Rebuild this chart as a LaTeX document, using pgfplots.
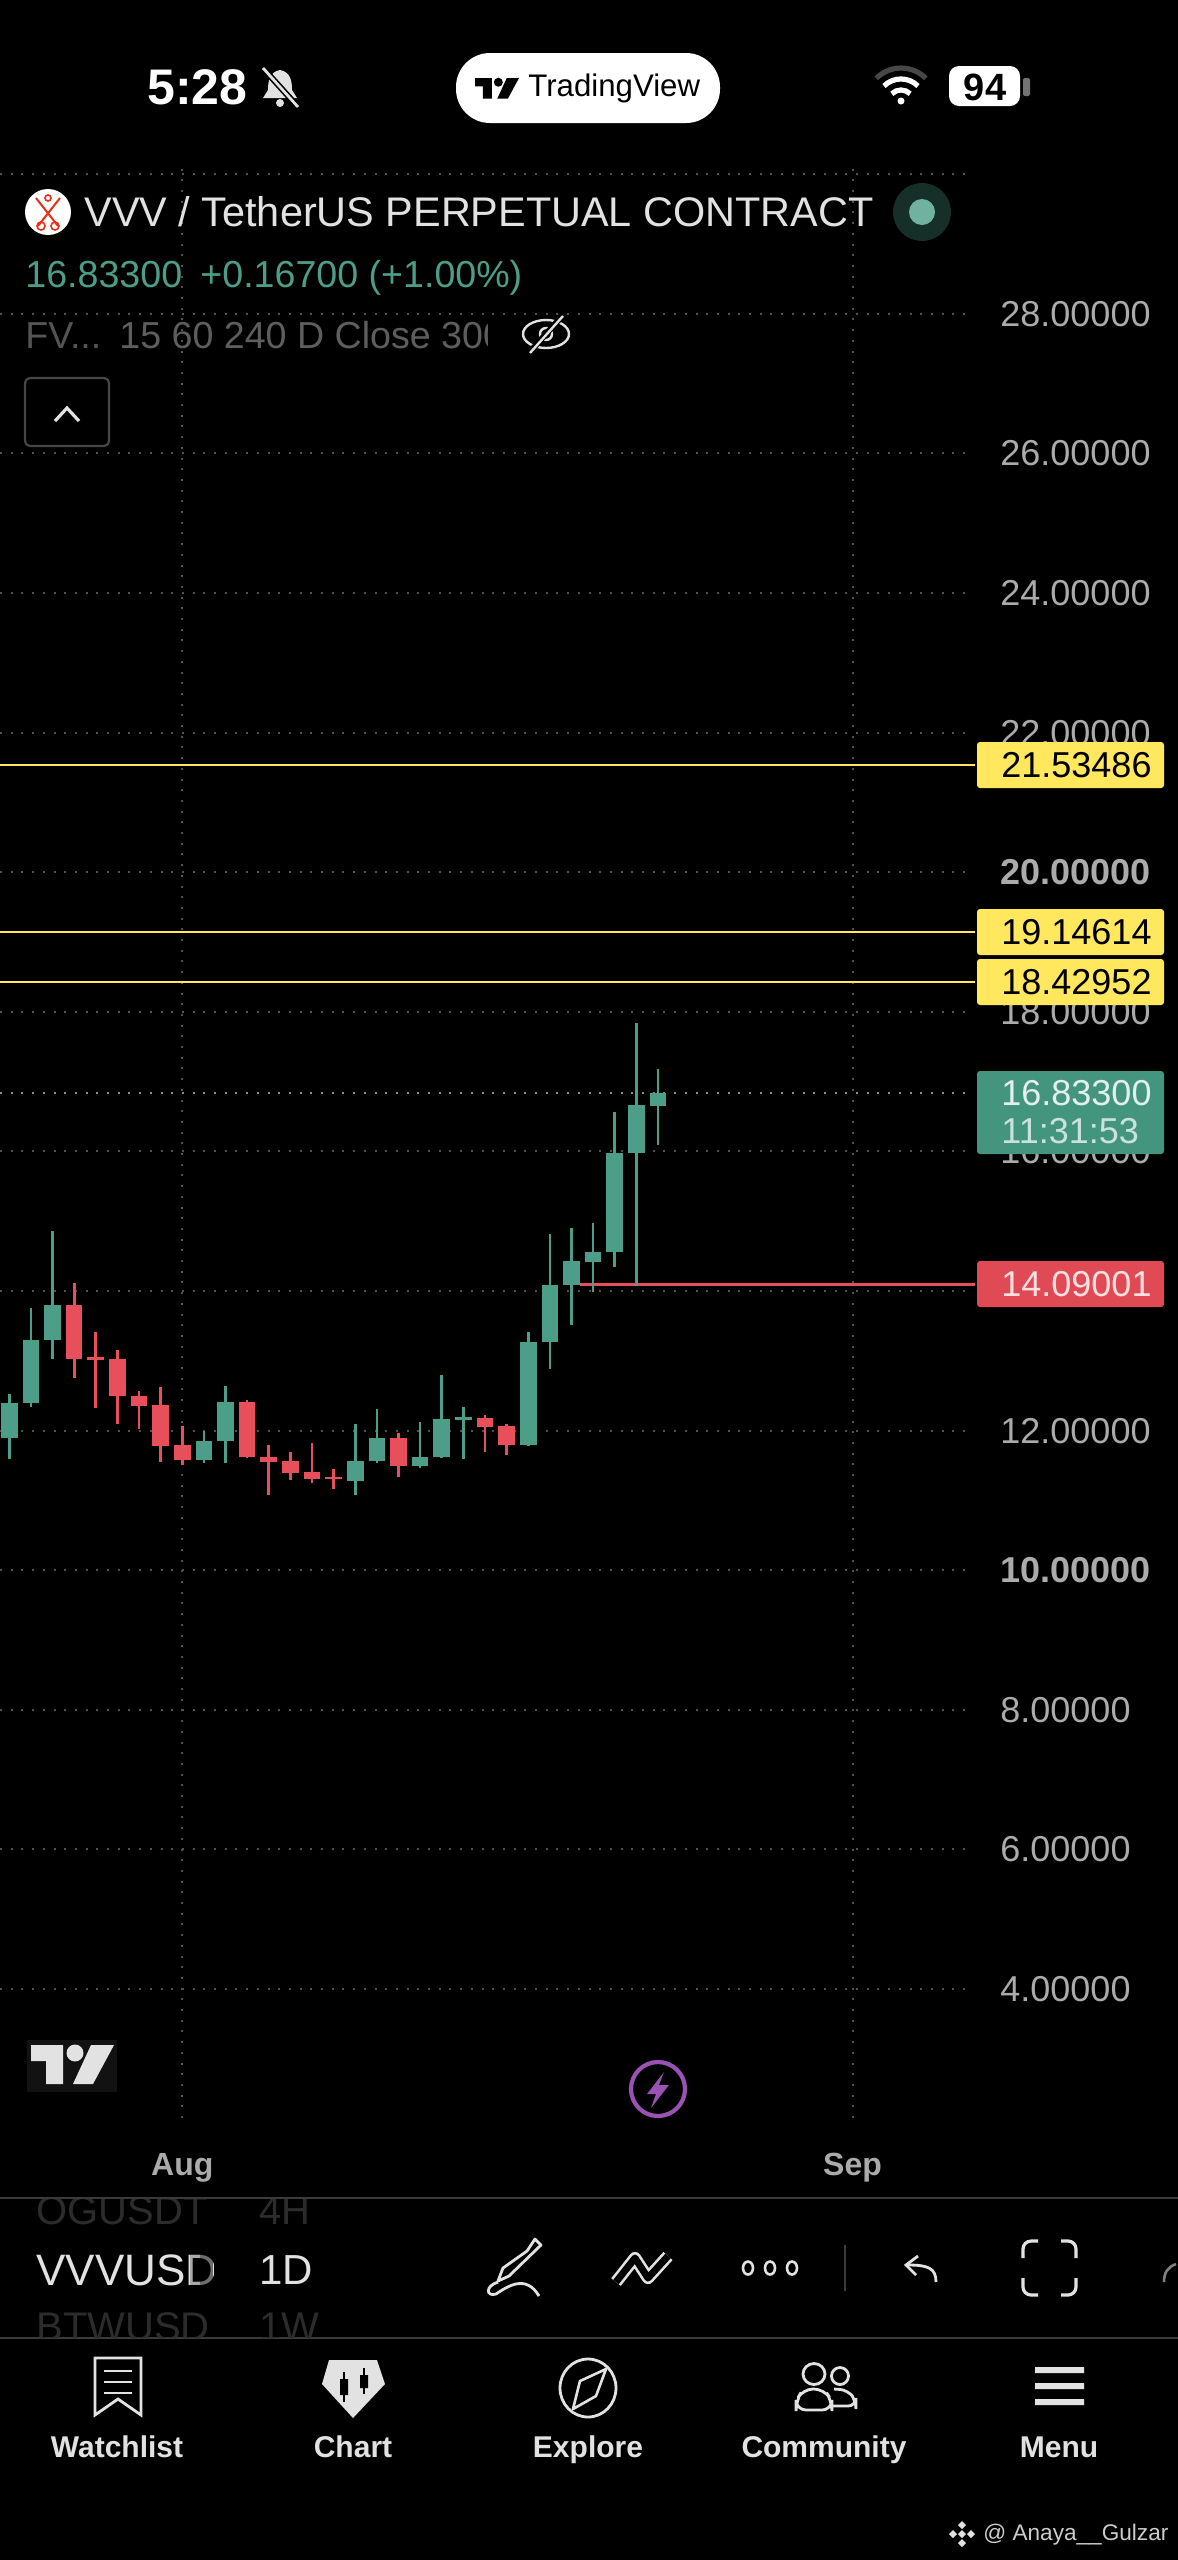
\documentclass[border=0pt]{standalone}
\usepackage{fontspec}
\usepackage{pgfplots}
\pgfplotsset{compat=1.18}
\setmainfont{Liberation Sans}
\newcommand\fs[1]{\fontsize{#1pt}{#1pt}\selectfont}
\definecolor{cgreen}{HTML}{4D9E88}
\definecolor{cred}{HTML}{E7505A}
\definecolor{cyellow}{HTML}{FFE75E}
\definecolor{cgbox}{HTML}{44957E}
\definecolor{crbox}{HTML}{E04A55}
\definecolor{ticktxt}{HTML}{ABABAB}
\definecolor{ui}{HTML}{E2E2E2}
\definecolor{faint}{HTML}{2C2C2C}
\definecolor{sepl}{HTML}{3A3A3A}
\definecolor{purp}{HTML}{9A52B5}
\newcommand\tvlogo[1]{%
  \fill[#1] (0,0)--(32,0)--(32,39)--(15,39)--(15,16)--(0,16)--cycle;
  \fill[#1] (44,8) circle (8.5);
  \fill[#1] (83,0)--(62,39)--(42,39)--(60,0)--cycle;}
\begin{document}
\begin{tikzpicture}[x=0.5pt,y=-0.5pt]
\fill[black,use as bounding box] (0,0) rectangle (1178,2560);
\begin{axis}[
  at={(0pt,-1059pt)},anchor=south west,
  scale only axis,width=482.5pt,height=976.5pt,
  xmin=-0.43,xmax=44.2,ymin=2.152,ymax=30.132,
  clip=false,
  unbounded coords=jump,
  axis line style={draw=none},
  tick style={draw=none},
  major tick length=0pt,
  xtick={8,39},xticklabels={Aug,Sep},
  ytick={4,6,8,10,12,14,16,18,20,22,24,26,28,30},
  yticklabels={4.00000,6.00000,8.00000,\textbf{10.00000},12.00000,14.00000,16.00000,18.00000,\textbf{20.00000},22.00000,24.00000,26.00000,28.00000,{}},
  yticklabel pos=right,
  yticklabel style={anchor=west,inner sep=0pt,xshift=17.5pt,text=ticktxt,font=\fs{18}},
  xticklabel style={anchor=base,inner sep=0pt,yshift=-28.5pt,text=ticktxt,font=\fs{16}\bfseries},
  xmajorgrids,ymajorgrids,
  grid style={draw=white!32!black,line width=1pt,dash pattern=on 1pt off 4.35pt},
]
% current price dotted line
\addplot[forget plot,draw=white!55!black,line width=1pt,dash pattern=on 1pt off 4.35pt] coordinates {(-0.43,16.833)(44.2,16.833)};
% levels
\addplot[forget plot,cyellow,line width=1.2pt] coordinates {(-0.43,21.53486)(44.67,21.53486)};
\addplot[forget plot,cyellow,line width=1.2pt] coordinates {(-0.43,19.14614)(44.67,19.14614)};
\addplot[forget plot,cyellow,line width=1.2pt] coordinates {(-0.43,18.42952)(44.67,18.42952)};
\addplot[forget plot,cred,line width=1.5pt] coordinates {(26.39,14.09001)(44.67,14.09001)};
% red wicks
\addplot[forget plot,cred,line width=1.35pt] coordinates {
(3,12.76)(3,14.12)(3,nan)(4,12.32)(4,13.41)(4,nan)(5,12.09)(5,13.16)(5,nan)(6,12.02)(6,12.57)(6,nan)
(7,11.55)(7,12.63)(7,nan)(8,11.51)(8,12.07)(8,nan)(11,11.61)(11,12.44)(11,nan)(12,11.08)(12,11.80)(12,nan)
(13,11.29)(13,11.70)(13,nan)(14,11.25)(14,11.82)(14,nan)(15,11.16)(15,11.45)(15,nan)(18,11.33)(18,11.97)(18,nan)
(22,11.70)(22,12.22)(22,nan)(23,11.65)(23,12.09)};
% green wicks
\addplot[forget plot,cgreen,line width=1.35pt] coordinates {
(0,11.59)(0,12.53)(0,nan)(1,12.34)(1,13.76)(1,nan)(2,13.03)(2,14.86)(2,nan)(9,11.54)(9,11.99)(9,nan)
(10,11.53)(10,12.64)(10,nan)(16,11.08)(16,12.10)(16,nan)(17,11.54)(17,12.31)(17,nan)(19,11.47)(19,12.13)(19,nan)
(20,11.61)(20,12.79)(20,nan)(21,11.59)(21,12.34)(21,nan)(24,11.78)(24,13.41)(24,nan)(25,12.88)(25,14.81)(25,nan)
(26,13.52)(26,14.91)(26,nan)(27,13.99)(27,14.97)(27,nan)(28,14.34)(28,16.57)(28,nan)(29,14.07)(29,17.84)(29,nan)
(30,16.09)(30,17.18)};
% red bodies
\addplot[forget plot,cred,line width=8.3pt] coordinates {
(3,13.03)(3,13.80)(3,nan)(4,13.01)(4,13.05)(4,nan)(5,12.49)(5,13.02)(5,nan)(6,12.36)(6,12.50)(6,nan)
(7,11.78)(7,12.37)(7,nan)(8,11.58)(8,11.79)(8,nan)(11,11.62)(11,12.41)(11,nan)(12,11.55)(12,11.62)(12,nan)
(13,11.40)(13,11.56)(13,nan)(14,11.31)(14,11.41)(14,nan)(15,11.30)(15,11.34)(15,nan)(18,11.50)(18,11.89)(18,nan)
(22,12.05)(22,12.18)(22,nan)(23,11.79)(23,12.06)};
% green bodies
\addplot[forget plot,cgreen,line width=8.3pt] coordinates {
(0,11.90)(0,12.40)(0,nan)(1,12.40)(1,13.30)(1,nan)(2,13.30)(2,13.80)(2,nan)(9,11.58)(9,11.85)(9,nan)
(10,11.85)(10,12.41)(10,nan)(16,11.28)(16,11.57)(16,nan)(17,11.56)(17,11.89)(17,nan)(19,11.50)(19,11.62)(19,nan)
(20,11.62)(20,12.16)(20,nan)(21,12.15)(21,12.19)(21,nan)(24,11.79)(24,13.27)(24,nan)(25,13.27)(25,14.08)(25,nan)
(26,14.08)(26,14.43)(26,nan)(27,14.42)(27,14.56)(27,nan)(28,14.56)(28,15.98)(28,nan)(29,15.98)(29,16.66)(29,nan)
(30,16.65)(30,16.83)};
\end{axis}

% price boxes
\foreach \yy/\lab in {765/21.53486,932/19.14614,982/18.42952}{
  \fill[cyellow,rounded corners=1.5pt] (977,\yy-23) rectangle (1164,\yy+23);
  \node[anchor=west,inner sep=0pt,text=black,font=\fs{18}] at (1001,\yy) {\lab};
}
\fill[cgbox,rounded corners=1.5pt] (977,1071) rectangle (1164,1154);
\node[anchor=west,inner sep=0pt,text=white!85!cgreen,font=\fs{18}] at (1001,1093) {16.83300};
\node[anchor=west,inner sep=0pt,text=white!70!cgreen,font=\fs{18}] at (1001,1131) {11:31:53};
\fill[crbox,rounded corners=1.5pt] (977,1261) rectangle (1164,1307);
\node[anchor=west,inner sep=0pt,text=white!88!red,font=\fs{18}] at (1001,1284) {14.09001};

% status bar
\node[anchor=west,inner sep=0pt,text=white,font=\fs{25}\bfseries] at (147,87) {5:28};
\fill[ui] (280,70) .. controls (269,72) and (268,82) .. (268,90) -- (263,98) -- (297,98) -- (292,90) .. controls (292,82) and (291,72) .. (280,70) -- cycle;
\fill[ui] (280,103) circle (4);
\draw[black,line width=3pt] (262,67)--(299,108);
\draw[ui,line width=1.4pt] (263,68)--(298,107);
\fill[white,rounded corners=17pt] (456,53) rectangle (720,123);
\begin{scope}[shift={(475,78)},scale=0.53]\tvlogo{black}\end{scope}
\node[anchor=west,inner sep=0pt,text=black,font=\fs{15.6}] at (528,88) {TradingView};
\draw[white!28!black,line width=2.6pt] (876.3,78.3) arc (225:315:35);
\draw[white,line width=2.6pt] (884,86) arc (225:315:24);
\draw[white,line width=2.6pt] (891.8,93.8) arc (225:315:13);
\fill[white] (901,101) circle (3.5);
\fill[white,rounded corners=5pt] (949,66) rectangle (1020,106);
\node[inner sep=0pt,text=black,font=\fs{19}\bfseries] at (985,87) {94};
\fill[white!45!black,rounded corners=1pt] (1023,78) rectangle (1030,96);

% header
\fill[white] (48,212) circle (23);
\draw[red!65!brown,line width=1pt] (36,198)--(58,226) (60,198)--(38,226);
\draw[red!65!brown,line width=.8pt] (41,226) circle (4) (55,226) circle (4) (48,198) circle (3);
\node[anchor=west,inner sep=0pt,text=ui,font=\fs{20.7}] at (84,212) {VVV / TetherUS PERPETUAL CONTRACT};
\fill[cgreen!30!black] (922,212) circle (29);
\fill[cgreen!80!white] (922,212) circle (13);
\node[anchor=base west,inner sep=0pt,text=cgreen,font=\fs{18.8}] at (25,287) {16.83300};
\node[anchor=base west,inner sep=0pt,text=cgreen,font=\fs{18.8}] at (200,287) {+0.16700 (+1.00\%)};
\node[anchor=base west,inner sep=0pt,text=white!33!black,font=\fs{18.8}] at (25,348) {FV...};
\begin{scope}
\clip (110,300) rectangle (487,370);
\node[anchor=base west,inner sep=0pt,text=white!37!black,font=\fs{18.8}] at (119,348) {15 60 240 D Close 300};
\end{scope}
\draw[ui,line width=1.2pt] (546,334) ellipse (23 and 14);
\draw[ui,line width=1.2pt] (546,334) circle (6);
\draw[black,line width=3pt] (528,354)--(564,314);
\draw[ui,line width=1.2pt] (530,353)--(563,316);
\draw[white!28!black,line width=1.1pt,rounded corners=2.5pt] (25,378) rectangle (109,446);
\draw[ui,line width=1.6pt] (55,421)--(67,408)--(79,421);

% chart footer
\fill[white!7!black] (27,2040) rectangle (117,2092);
\begin{scope}[shift={(31,2045)}]\tvlogo{ui}\end{scope}
\draw[purp,line width=2.1pt] (658,2089) circle (27);
\fill[purp] (664,2072)--(647,2094)--(656,2094)--(651,2108)--(669,2085)--(659,2085)--cycle;

% toolbar
\draw[sepl,line width=1pt] (0,2198)--(1178,2198) (0,2338)--(1178,2338);
\begin{scope}
\clip (30,2199) rectangle (330,2337);
\node[anchor=west,inner sep=0pt,text=faint,font=\fs{20}] at (36,2211) {OGUSDT};
\node[anchor=west,inner sep=0pt,text=faint,font=\fs{20}] at (36,2327) {BTWUSD};
\node[anchor=west,inner sep=0pt,text=faint,font=\fs{20}] at (259,2211) {4H};
\node[anchor=west,inner sep=0pt,text=faint,font=\fs{20}] at (259,2327) {1W};
\node[anchor=west,inner sep=0pt,text=ui,font=\fs{21}] at (259,2270) {1D};
\end{scope}
\fill[black] (212,2199) rectangle (250,2337);
\begin{scope}
\clip (30,2199) rectangle (213,2337);
\node[anchor=west,inner sep=0pt,text=ui,font=\fs{22}] at (36,2270) {VVVUSD};
\fill[black,opacity=.25] (190,2240) rectangle (213,2300);
\fill[black,opacity=.35] (200,2240) rectangle (213,2300);
\end{scope}
\begin{scope}[shift={(0,18)}]
\draw[ui,line width=1.4pt,line join=round] (527,2233)--(535,2221)--(541,2227)--(509,2258)--(498,2263)--(503,2250)--cycle;
\draw[ui,line width=1.4pt] (498,2264) .. controls (485,2268) and (486,2279) .. (496,2276) .. controls (508,2268) and (526,2256) .. (539,2278);
\draw[ui,line width=1.3pt,double=black,double distance=3.5pt,line join=round] (616,2264)--(635,2240)--(648,2260)--(668,2238);
\foreach \xx in {748,770,792}{\draw[ui,line width=1.3pt] (\xx,2250) ellipse (5 and 6.5);}
\draw[sepl,line width=.8pt] (845,2227)--(845,2273);
\draw[ui,line width=1.4pt] (936,2264) .. controls (936,2250) and (928,2247) .. (908,2247);
\draw[ui,line width=1.4pt] (918,2238)--(906,2247)--(916,2257);
\draw[white!50!black,line width=1.3pt] (1164,2264) .. controls (1164,2254) and (1168,2249) .. (1176,2246);
\end{scope}
\draw[ui,line width=1.6pt,rounded corners=4pt] (1023,2258)--(1023,2241)--(1038,2241);
\draw[ui,line width=1.6pt,rounded corners=4pt] (1061,2241)--(1076,2241)--(1076,2258);
\draw[ui,line width=1.6pt,rounded corners=4pt] (1023,2278)--(1023,2295)--(1038,2295);
\draw[ui,line width=1.6pt,rounded corners=4pt] (1061,2295)--(1076,2295)--(1076,2278);

% nav icons
\draw[ui,line width=1.4pt,line join=miter] (95,2358)--(141,2358)--(141,2415)--(118,2399)--(95,2415)--cycle;
\draw[ui,line width=1.4pt] (104,2371)--(132,2371) (104,2382)--(132,2382) (104,2393)--(132,2393);
\fill[ui] (329,2360)--(377,2360)--(385,2384)--(353,2418)--(322,2384)--cycle;
\draw[black,line width=1.2pt] (344,2372)--(344,2402) (364,2368)--(364,2394);
\fill[black] (340,2379) rectangle (348,2395) (360,2375) rectangle (368,2388);
\draw[ui,line width=1.4pt] (588,2388) ellipse (28 and 29);
\draw[ui,line width=1.3pt,line join=round] (606,2369)--(596,2396)--(573,2409)--(580,2381)--cycle;
\draw[ui,line width=1.4pt] (814,2374) ellipse (11 and 10.5);
\draw[ui,line width=1.4pt] (840,2376) ellipse (8.5 and 8.5);
\draw[ui,line width=1.4pt,rounded corners=5pt] (796,2410)--(796,2401)--(803,2389)--(824,2389)--(832,2401)--(832,2410)--cycle;
\draw[ui,line width=1.4pt,rounded corners=4pt] (834,2389)--(848,2390)--(856,2401)--(856,2406)--(833,2406);
\fill[ui] (1035,2367) rectangle (1084,2373) (1035,2383) rectangle (1084,2389) (1035,2399) rectangle (1084,2405);
\foreach \cx/\nm in {117/Watchlist,353/Chart,588/Explore,824/Community,1059/Menu}{
  \node[anchor=base,inner sep=0pt,text=ui,font=\fs{15}\bfseries] at (\cx,2457) {\nm};
}
% watermark
\foreach \px/\py in {962/2525,953/2534,971/2534,962/2543,962/2534}{
  \fill[ui] (\px,\py-4)--(\px+4,\py)--(\px,\py+4)--(\px-4,\py)--cycle;
}
\node[anchor=west,inner sep=0pt,text=white!80!black,font=\fs{11.3}] at (983,2535) {@ Anaya\_\_Gulzar};
\end{tikzpicture}
\end{document}
